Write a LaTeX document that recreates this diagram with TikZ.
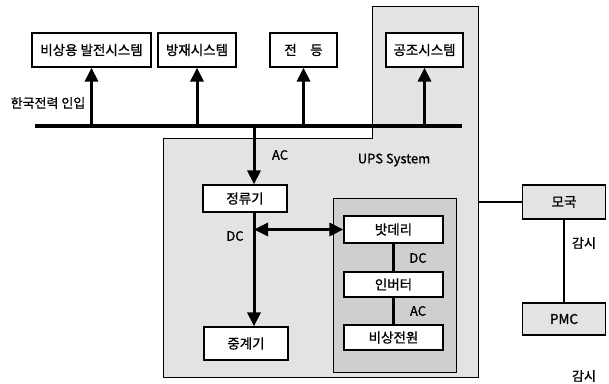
\documentclass[tikz,border=0pt]{standalone}
\usepackage{fontspec}
\setmainfont{Noto Sans CJK KR}[FakeBold=1]
\usepackage{tikz}
\usetikzlibrary{arrows.meta,calc}
\tikzset{
  blk/.style={draw=black,line width=1.2pt,fill=white,inner sep=0pt,font=\fontsize{13.5}{15}\selectfont},% equipment box
  rmt/.style={blk,fill=gray!22},                                   % remote station
  zone/.style={draw=black,line width=0.8pt,fill=gray!22},          % shaded area
  pwr/.style={-{Triangle[length=14pt,width=13pt]},line width=3pt},
  bipwr/.style={{Triangle[length=14pt,width=13pt]}-{Triangle[length=14pt,width=13pt]},line width=3pt},
  bus/.style={line width=4.5pt},
  sig/.style={line width=1.5pt},
  lbl/.style={font=\fontsize{13}{15}\selectfont,inner sep=0pt},
}

\begin{document}
\begin{tikzpicture}[x=1pt,y=-1pt]
  \useasboundingbox (0,0) rectangle (609,383);
  % shaded areas
  \draw[zone] (163,138) -- (372,138) -- (372,6) -- (478,6) -- (478,377) -- (163,377) -- cycle;
  \node[zone,fill=gray!38,minimum width=123pt,minimum height=174pt,inner sep=0pt] (bgrp) at (394.5,285) {};
  % loads on the bus
  \node[blk,minimum width=119pt,minimum height=34pt] (gen) at (91.5,50) {비상용 발전시스템};
  \node[blk,minimum width=78pt,minimum height=34pt] (fire) at (197,50) {방재시스템};
  \node[blk,minimum width=67pt,minimum height=34pt] (lamp) at (303.5,50) {전\quad 등};
  \node[blk,minimum width=77pt,minimum height=34pt] (hvac) at (424.5,50) {공조시스템};
  \coordinate (busL) at (35,126);
  \coordinate (busR) at (462,126);
  \coordinate (tap) at (254,126);
  \draw[bus] (busL) -- (busR);
  \node[lbl] (kepco) at (48,103) {한국전력 인입};
  \foreach \b in {gen,fire,lamp,hvac}
    \draw[pwr] (\b.south |- busL) -- (\b.south);
  % UPS
  \node[lbl] (upsname) at (394,160) {UPS System};
  \node[blk,minimum width=84pt,minimum height=27pt] (rect) at (245,198.5) {정류기};
  \node[blk,minimum width=84pt,minimum height=33pt] (relay) at (246,343.5) {중계기};
  \node[blk,minimum width=99pt,minimum height=27pt] (bat) at (393.5,229.5) {밧데리};
  \node[blk,minimum width=99pt,minimum height=25pt] (inv) at (393.5,284.5) {인버터};
  \node[blk,minimum width=99pt,minimum height=25pt] (emg) at (393.5,337.5) {비상전원};
  \draw[pwr] (tap) -- (tap |- rect.north);
  \draw[pwr] (tap |- rect.south) -- (tap |- relay.north);
  \coordinate (dcpt) at (tap |- bat.west);
  \draw[bipwr] (dcpt) -- (bat.west);
  \draw[line width=3pt] (bat.south) -- (inv.north);
  \draw[line width=3pt] (inv.south) -- (emg.north);
  \node[lbl] (acin) at (280,155) {AC};
  \node[lbl] (dcout) at (235,236) {DC};
  \node[lbl] (dcbat) at (418,258) {DC};
  \node[lbl] (acinv) at (418,311) {AC};
  % monitoring
  \node[rmt,minimum width=83pt,minimum height=34pt] (mog) at (564,202) {모국};
  \node[rmt,minimum width=83pt,minimum height=32pt] (pmc) at (564,319) {PMC};
  \coordinate (upsE) at (478,202);
  \draw[sig] (upsE) -- (mog.west);
  \draw[sig] (mog.south) -- (pmc.north);
  \node[lbl] (mon1) at (584,243) {감시};
  \node[lbl] (mon2) at (584,376) {감시};
\end{tikzpicture}
\end{document}
